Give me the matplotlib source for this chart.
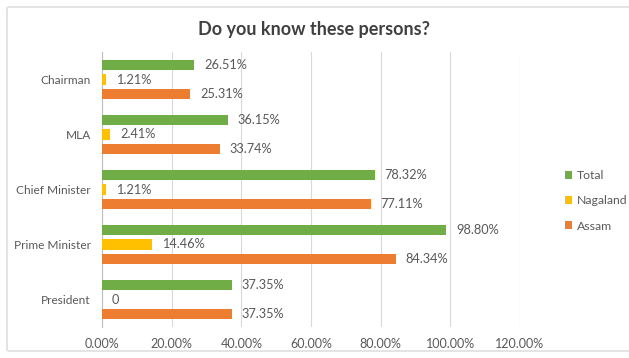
import numpy as np
import matplotlib.pyplot as plt
from matplotlib.patches import FancyBboxPatch

plt.rcParams['font.family'] = ['Lato', 'DejaVu Sans']

# categories listed bottom to top
categories = ['President', 'Prime Minister', 'Chief Minister', 'MLA', 'Chairman']
assam = [37.35, 84.34, 77.11, 33.74, 25.31]
nagaland = [0, 14.46, 1.21, 2.41, 1.21]
total = [37.35, 98.80, 78.32, 36.15, 26.51]

fig = plt.figure(figsize=(6.29, 3.58), dpi=100)
ax = fig.add_axes([102 / 629, 1 - 327 / 358, (520 - 102) / 629, (327 - 52) / 358])

# light frame around the chart, running past the right edge
fig.patches.append(FancyBboxPatch((7 / 629, 7 / 358), 640 / 629, 344 / 358,
                                  boxstyle='round,pad=0,rounding_size=0.004',
                                  transform=fig.transFigure, fill=False,
                                  edgecolor='#d9d9d9', linewidth=1, zorder=0))

y = np.arange(len(categories))
h = 0.19
off = 0.265
series = [(assam, -off, '#ed7d31', 'Assam'),
          (nagaland, 0, '#ffc000', 'Nagaland'),
          (total, off, '#70ad47', 'Total')]

for vals, d, col, name in series:
    bars = ax.barh(y + d, vals, height=h, color=col, label=name, zorder=3)
    labels = ['0' if v == 0 else f'{v:.2f}%' for v in vals]
    ax.bar_label(bars, labels=labels, padding=7, fontsize=9.2, color='#595959')

ax.set_xlim(0, 120)
ax.set_ylim(-0.5, len(categories) - 0.5)
ticks = np.arange(0, 121, 20)
ax.set_xticks(ticks)
ax.set_xticklabels([f'{t:.2f}%' for t in ticks], fontsize=9, color='#595959')
ax.set_yticks(y)
ax.set_yticklabels(categories, fontsize=8.6, color='#595959')
ax.tick_params(length=0, pad=8)
ax.grid(axis='x', color='#d9d9d9', linewidth=0.8, zorder=0)
for s in ['top', 'right', 'bottom']:
    ax.spines[s].set_visible(False)
ax.spines['left'].set_color('#bfbfbf')
ax.spines['left'].set_linewidth(0.8)

fig.text(0.5, 1 - 30 / 358, 'Do you know these persons?', ha='center', va='center',
         fontsize=13, fontweight='bold', color='#404040')

handles, lbls = ax.get_legend_handles_labels()
fig.legend(handles[::-1], lbls[::-1], loc='center left',
           bbox_to_anchor=(556 / 629, 1 - 201 / 358), frameon=False,
           fontsize=8.8, labelcolor='#595959', handlelength=0.6, handleheight=0.6,
           handletextpad=0.4, labelspacing=1.15, borderpad=0.2)

fig.savefig('out.png', dpi=100)
